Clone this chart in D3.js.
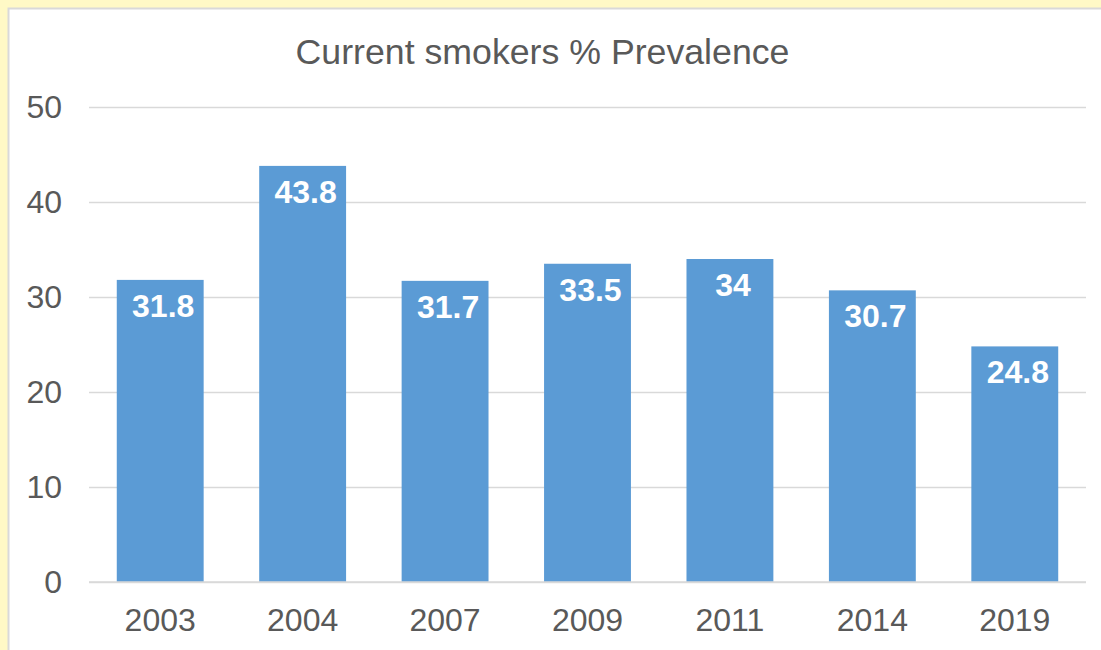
<!DOCTYPE html>
<html><head><meta charset="utf-8">
<script src="https://cdn.jsdelivr.net/npm/d3@7"></script>
<style>html,body{margin:0;padding:0;background:#fff9c6;overflow:hidden}</style>
</head><body>
<svg id="c" width="1101" height="650"></svg>
<script>
const categories = ["2003","2004","2007","2009","2011","2014","2019"];
const values = [31.8, 43.8, 31.7, 33.5, 34, 30.7, 24.8];
const yTicks = [0,10,20,30,40,50];
const title = "Current smokers % Prevalence";

const W = 1101, H = 650;
const svg = d3.select("#c");
const font = "'Liberation Sans', Arial, sans-serif";

// frame
svg.append("rect").attr("x",0).attr("y",0).attr("width",W).attr("height",H).attr("fill","#fff9c6");
svg.append("rect").attr("x",8.5).attr("y",8.5).attr("width",W+10).attr("height",H+10)
  .attr("fill","#fff").attr("stroke","#d9d9d9").attr("stroke-width",2);

const m = {left:89, right:1086, top:107, bottom:582};
const x = d3.scaleBand().domain(categories).range([m.left, m.right]).paddingInner(0.39).paddingOuter(0.195);
const y = d3.scaleLinear().domain([0,50]).range([m.bottom, m.top]);

// gridlines
const yAxis = d3.axisLeft(y).tickValues(yTicks).tickSize(-(m.right-m.left)).tickPadding(27);
const gy = svg.append("g").attr("transform",`translate(${m.left},0)`).call(yAxis);
gy.select(".domain").remove();
gy.selectAll(".tick line").attr("stroke","#d9d9d9").attr("stroke-width",1.3);
gy.selectAll(".tick text").attr("fill","#595959").style("font-family",font).style("font-size","32px");

// bars
svg.append("g").selectAll("rect").data(values).join("rect")
  .attr("x",(d,i)=>x(categories[i]))
  .attr("width",x.bandwidth())
  .attr("y",d=>y(d))
  .attr("height",d=>y(0)-y(d))
  .attr("fill","#5b9bd5");

// value labels
svg.append("g").selectAll("text").data(values).join("text")
  .attr("x",(d,i)=>x(categories[i])+x.bandwidth()/2+3)
  .attr("y",d=>y(d)+37)
  .attr("text-anchor","middle")
  .attr("fill","#fff")
  .style("font-family",font).style("font-size","32px").style("font-weight","bold")
  .text(d=>d);

// x axis
const xAxis = d3.axisBottom(x).tickSize(0).tickPadding(26);
const gx = svg.append("g").attr("transform",`translate(0,${m.bottom})`).call(xAxis);
gx.select(".domain").attr("stroke","#d9d9d9").attr("stroke-width",1.3).attr("d",`M${m.left},0H${m.right}`);
gx.selectAll(".tick text").attr("fill","#595959").style("font-family",font).style("font-size","32px");

// title
svg.append("text").attr("x",(m.left+m.right)/2-45).attr("y",64)
  .attr("text-anchor","middle").attr("fill","#595959")
  .style("font-family",font).style("font-size","35.7px")
  .text(title);
</script>
</body></html>
